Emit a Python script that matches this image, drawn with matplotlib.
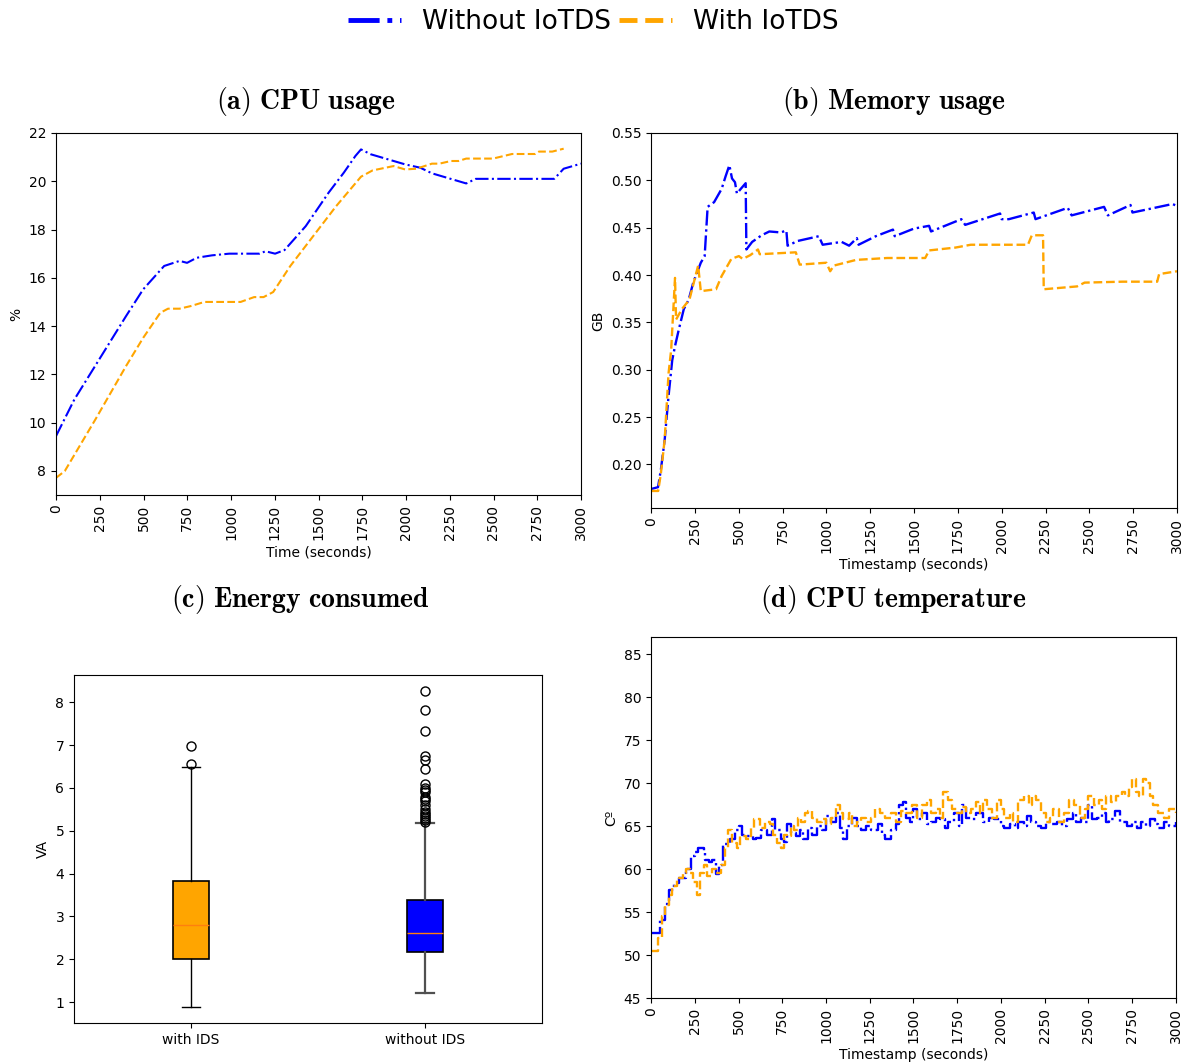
import matplotlib
matplotlib.use("Agg")
import matplotlib.pyplot as plt
from matplotlib.lines import Line2D

W, H = 1187, 1062

# (a) CPU usage (%)
cpu_t_without = [0, 105, 247, 400, 498, 618, 706, 749, 804, 891, 990, 1164, 1197, 1252, 1306,
                 1427, 1558, 1645, 1711, 1743, 1798, 1995, 2082, 2148, 2344, 2399, 2847, 2901, 3000]
cpu_without = [9.44, 10.96, 12.62, 14.41, 15.52, 16.49, 16.7, 16.62, 16.83, 16.93, 17.0, 17.0, 17.1, 17.0, 17.15,
               18.14, 19.53, 20.36, 21.05, 21.32, 21.12, 20.7, 20.56, 20.33, 19.91, 20.1, 20.1, 20.52, 20.73]
cpu_t_with = [0, 50, 225, 400, 498, 596, 640, 706, 771, 848, 1055, 1132, 1186, 1241, 1339, 1470, 1601,
              1743, 1809, 1929, 1995, 2060, 2148, 2191, 2257, 2300, 2344, 2497, 2606, 2738, 2760, 2836, 2901]
cpu_with = [7.71, 7.99, 10.13, 12.34, 13.51, 14.55, 14.72, 14.72, 14.83, 15.0, 15.0, 15.2, 15.2, 15.41, 16.49, 17.73, 18.97,
            20.19, 20.45, 20.63, 20.49, 20.52, 20.73, 20.73, 20.84, 20.84, 20.94, 20.94, 21.13, 21.13, 21.23, 21.23, 21.35]

# (b) Memory usage (GB)
mem_t_without = [0, 40, 56, 78, 100, 121, 137, 158, 187, 215, 241, 284, 306, 323, 360, 403, 425, 447, 462, 479,
                 490, 512, 540, 544, 577, 631, 675, 740, 772, 779, 837, 957, 979, 1087, 1130, 1174, 1184, 1282,
                 1380, 1390, 1499, 1586, 1597, 1770, 1792, 1991, 2000, 2041, 2183, 2193, 2377, 2399, 2584, 2606,
                 2735, 2746, 2974, 3000]
mem_without = [0.174, 0.176, 0.194, 0.226, 0.272, 0.31, 0.325, 0.342, 0.364, 0.374, 0.392, 0.413, 0.42, 0.472,
               0.477, 0.491, 0.504, 0.516, 0.502, 0.498, 0.486, 0.491, 0.497, 0.427, 0.435, 0.442, 0.446, 0.445,
               0.447, 0.431, 0.436, 0.441, 0.432, 0.435, 0.431, 0.439, 0.432, 0.441, 0.448, 0.441, 0.449, 0.452,
               0.446, 0.459, 0.453, 0.465, 0.459, 0.459, 0.466, 0.459, 0.471, 0.463, 0.472, 0.463, 0.474, 0.466,
               0.475, 0.473]
mem_t_with = [0, 41, 56, 78, 100, 115, 137, 143, 176, 219, 269, 284, 371, 403, 458, 501, 523, 566, 610, 620,
              826, 848, 1000, 1022, 1043, 1170, 1347, 1564, 1586, 1736, 1824, 2150, 2172, 2236, 2240, 2430,
              2473, 2690, 2887, 2898, 3000]
mem_with = [0.172, 0.172, 0.19, 0.226, 0.296, 0.321, 0.397, 0.353, 0.364, 0.374, 0.41, 0.383, 0.385, 0.399,
            0.417, 0.42, 0.417, 0.421, 0.427, 0.422, 0.424, 0.411, 0.413, 0.404, 0.41, 0.416, 0.418, 0.418,
            0.426, 0.429, 0.432, 0.432, 0.442, 0.442, 0.385, 0.388, 0.392, 0.393, 0.393, 0.401, 0.404]

# (c) Energy consumed (VA) box statistics
energy_labels = ["with IDS", "without IDS"]
energy_q1 = [2.0, 2.17]
energy_med = [2.8, 2.62]
energy_q3 = [3.82, 3.38]
energy_lo = [0.88, 1.22]
energy_hi = [6.5, 5.18]
energy_fliers = [[6.57, 6.97],
                 [5.2, 5.25, 5.3, 5.35, 5.4, 5.45, 5.5, 5.6, 5.7, 5.75, 5.8, 5.9, 5.95, 6.0, 6.1,
                  6.45, 6.65, 6.75, 7.32, 7.82, 8.27]]

# (d) CPU temperature (C)
temp_t_without = [0, 20, 50, 80, 100, 130, 160, 200, 230, 250, 270, 300, 310, 330, 350, 370, 390, 410, 450, 480,
                  500, 520, 550, 580, 600, 630, 660, 690, 710, 740, 760, 780, 800, 830, 850, 870, 900, 920, 950,
                  980, 1000, 1030, 1060, 1080, 1100, 1120, 1150, 1180, 1200, 1230, 1260, 1300, 1320, 1340, 1370,
                  1400, 1420, 1440, 1460, 1480, 1500, 1520, 1550, 1580, 1600, 1630, 1650, 1680, 1700, 1730, 1760,
                  1780, 1800, 1830, 1860, 1900, 1930, 1960, 2000, 2020, 2050, 2080, 2100, 2130, 2150, 2170, 2200,
                  2230, 2260, 2290, 2320, 2350, 2380, 2410, 2430, 2460, 2480, 2500, 2520, 2550, 2580, 2600, 2620,
                  2650, 2680, 2700, 2720, 2750, 2780, 2800, 2830, 2850, 2880, 2900, 2930, 2960, 3000]
temp_without = [52.6, 52.6, 54.1, 55.9, 57.6, 58.4, 59.0, 60.0, 61.5, 62.0, 62.4, 62.0, 61.0, 60.8, 61.0, 59.4, 60.5,
                62.9, 63.5, 64.5, 65.0, 64.0, 63.8, 63.5, 63.6, 64.5, 64.0, 65.8, 64.5, 63.5, 63.2, 65.2, 64.2, 63.8,
                64.5, 63.5, 64.8, 64.0, 65.0, 64.5, 66.2, 65.5, 66.5, 64.8, 63.5, 65.0, 66.0, 65.0, 64.5, 65.0, 64.5,
                65.2, 64.0, 63.5, 64.5, 65.2, 67.5, 67.8, 66.0, 65.5, 67.0, 65.8, 66.5, 65.2, 65.5, 66.0, 65.8, 64.8,
                65.5, 66.5, 65.0, 67.5, 66.0, 65.8, 66.5, 65.5, 66.0, 65.8, 65.0, 64.8, 65.2, 64.8, 65.5, 65.0, 66.2,
                65.5, 65.0, 64.8, 65.5, 65.2, 65.5, 65.0, 65.8, 66.5, 65.5, 66.0, 65.5, 67.5, 65.8, 66.0, 66.5, 65.5,
                65.8, 66.8, 65.5, 65.5, 65.0, 65.5, 64.8, 65.5, 65.0, 65.8, 65.2, 64.8, 65.5, 65.0, 65.5]
temp_t_with = [0, 20, 40, 60, 80, 100, 120, 150, 180, 200, 220, 240, 260, 280, 300, 320, 350, 370, 400, 420, 440,
               460, 490, 510, 540, 570, 590, 620, 650, 680, 700, 720, 740, 760, 780, 800, 820, 840, 860, 880, 900,
               920, 950, 980, 1000, 1030, 1060, 1080, 1100, 1130, 1150, 1180, 1200, 1230, 1260, 1280, 1310, 1340,
               1370, 1400, 1430, 1460, 1490, 1520, 1550, 1580, 1600, 1630, 1650, 1670, 1700, 1720, 1750, 1780,
               1800, 1830, 1860, 1880, 1900, 1920, 1950, 1980, 2000, 2020, 2050, 2070, 2100, 2130, 2160, 2180,
               2200, 2230, 2260, 2280, 2300, 2330, 2360, 2390, 2420, 2450, 2480, 2500, 2530, 2560, 2580, 2600,
               2630, 2660, 2690, 2710, 2730, 2750, 2770, 2790, 2810, 2830, 2850, 2870, 2900, 2930, 2960, 3000]
temp_with = [50.5, 50.5, 52.0, 54.5, 55.8, 57.0, 58.0, 59.0, 59.5, 60.0, 59.5, 58.5, 57.0, 59.5, 60.5, 59.2, 60.0,
             59.5, 60.5, 62.5, 64.5, 63.0, 62.5, 63.8, 63.5, 64.8, 65.8, 64.8, 65.5, 65.2, 64.0, 63.0, 62.5, 64.0,
             63.8, 65.0, 64.5, 66.0, 65.5, 66.5, 66.8, 66.0, 65.5, 65.8, 65.2, 66.0, 67.5, 66.5, 65.8, 66.5, 65.0,
             65.5, 66.0, 65.5, 66.0, 67.0, 66.5, 66.0, 66.5, 65.5, 66.8, 66.5, 67.5, 66.0, 67.5, 68.0, 66.5, 67.0,
             66.0, 69.0, 68.0, 67.0, 66.5, 67.2, 66.5, 67.0, 67.8, 66.5, 68.0, 67.0, 66.0, 68.0, 67.0, 66.0, 66.5,
             65.5, 68.0, 68.5, 67.5, 68.5, 68.0, 66.5, 65.5, 66.0, 67.0, 65.5, 66.5, 68.0, 67.5, 66.0, 67.0, 68.5,
             67.5, 68.0, 67.0, 68.5, 67.8, 68.5, 69.0, 68.5, 69.5, 70.5, 69.0, 68.5, 70.5, 70.0, 68.5, 67.5, 66.5,
             66.0, 67.0, 66.5]

plt.rcParams["mathtext.fontset"] = "cm"


def box(l, t, r, b):
    return [l / W, 1 - b / H, (r - l) / W, (b - t) / H]


def title(x, y, s):
    # bold Computer Modern, like the LaTeX captions of the original
    s = s.replace(" ", r"\ ")
    fig.text(x / W, 1 - y / H, r"$\mathbf{" + s + "}$", ha="center", va="center", fontsize=20)


def time_axis(ax, label):
    ax.set_xlim(0, 3000)
    ax.set_xticks(range(0, 3001, 250))
    ax.tick_params(axis="x", labelrotation=90)
    ax.set_xlabel(label)


fig = plt.figure(figsize=(W / 100, H / 100), dpi=100)

# (a)
ax = fig.add_axes(box(56, 133, 581, 495))
ax.plot(cpu_t_without, cpu_without, "-.", color="blue", lw=1.5)
ax.plot(cpu_t_with, cpu_with, "--", color="orange", lw=1.5)
time_axis(ax, "Time (seconds)")
ax.set_ylim(7, 22)
ax.set_yticks(range(8, 23, 2))
ax.set_ylabel("%")
title(306, 102, "(a) CPU usage")

# (b)
ax = fig.add_axes(box(651, 133, 1177, 508))
ax.plot(mem_t_without, mem_without, "-.", color="blue", lw=1.7)
ax.plot(mem_t_with, mem_with, "--", color="orange", lw=1.7)
time_axis(ax, "Timestamp (seconds)")
ax.set_ylim(0.154, 0.55)
ax.set_yticks([0.20, 0.25, 0.30, 0.35, 0.40, 0.45, 0.50, 0.55])
ax.set_ylabel("GB")
title(894, 102, "(b) Memory usage")

# (c)
ax = fig.add_axes(box(74, 675, 542, 1023))
stats = []
for i in range(2):
    stats.append({"label": energy_labels[i], "q1": energy_q1[i], "med": energy_med[i],
                  "q3": energy_q3[i], "whislo": energy_lo[i], "whishi": energy_hi[i],
                  "fliers": energy_fliers[i]})
bp = ax.bxp(stats, widths=0.15, patch_artist=True,
            flierprops=dict(marker="o", markerfacecolor="none", markeredgecolor="black", markersize=6.5),
            medianprops=dict(color="#ff7f0e", lw=1))
for patch, c in zip(bp["boxes"], ["orange", "blue"]):
    patch.set_facecolor(c)
    patch.set_edgecolor("black")
    patch.set_linewidth(1.2)
for line in bp["whiskers"][2:] + bp["caps"][2:]:
    line.set_color("#505050")
    line.set_linewidth(1.6)
ax.set_ylabel("VA")
title(300, 600, "(c) Energy consumed")

# (d)
ax = fig.add_axes(box(651, 637, 1176, 998))
ax.plot(temp_t_without, temp_without, "-.", color="blue", lw=1.7, drawstyle="steps-post")
ax.plot(temp_t_with, temp_with, "--", color="orange", lw=1.7, drawstyle="steps-post")
time_axis(ax, "Timestamp (seconds)")
ax.set_ylim(45, 87)
ax.set_yticks(range(45, 86, 5))
ax.set_ylabel("Cº")
title(893, 600, "(d) CPU temperature")

handles = [Line2D([], [], ls="-.", color="blue", lw=3.5),
           Line2D([], [], ls="--", color="orange", lw=3.5)]
fig.legend(handles, ["Without IoTDS", "With IoTDS"], loc="center", ncol=2,
           bbox_to_anchor=(0.5, 1 - 22 / H), frameon=False, fontsize=19,
           handlelength=2, columnspacing=0.3)

fig.savefig("out.png", dpi=100)
